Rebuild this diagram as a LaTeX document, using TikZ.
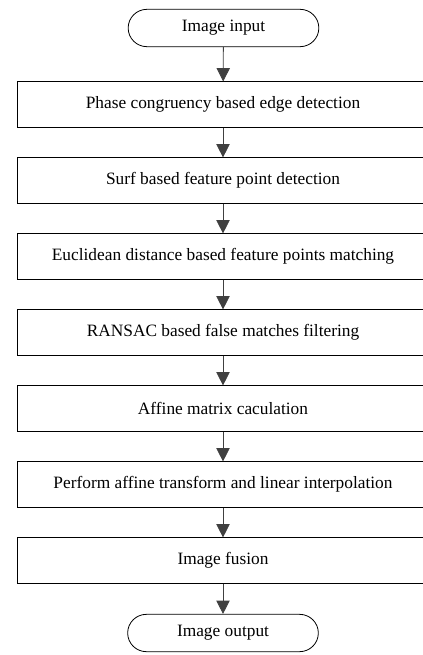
\documentclass[tikz,border=0pt]{standalone}
\usepackage{fontspec}
\setmainfont{Liberation Serif}
\usetikzlibrary{arrows.meta, positioning}

\begin{document}
\begin{tikzpicture}[x=0.75pt, y=-0.75pt,
    terminal/.style={draw, rounded corners=14pt, minimum width=143pt, minimum height=28pt, line width=0.6pt, font=\fontsize{13}{15}\selectfont},
    stage/.style={draw, minimum width=309pt, minimum height=34pt, line width=0.6pt, font=\fontsize{13}{15}\selectfont},
    flow/.style={-{Triangle[width=10pt, length=10pt]}, line width=0.6pt, black!75},
]
  \useasboundingbox (0,0) rectangle (423,655);
  \node[terminal] (in) at (223.5,28) {Image input};

  \foreach \i/\txt in {1/Phase congruency based edge detection, 2/Surf based feature point detection, 3/Euclidean distance based feature points matching, 4/RANSAC based false matches filtering, 5/Affine matrix caculation, 6/Perform affine transform and linear interpolation, 7/Image fusion} {
      \node[stage] (s\i) at (223, 28.5+76*\i) {\txt};
  }

  \node[terminal] (out) at (223,633) {Image output};

  \draw[flow] (in) -- (s1);
  \foreach \a/\b in {s1/s2, s2/s3, s3/s4, s4/s5, s5/s6, s6/s7, s7/out}
      \draw[flow] (\a) -- (\b);
\end{tikzpicture}
\end{document}
